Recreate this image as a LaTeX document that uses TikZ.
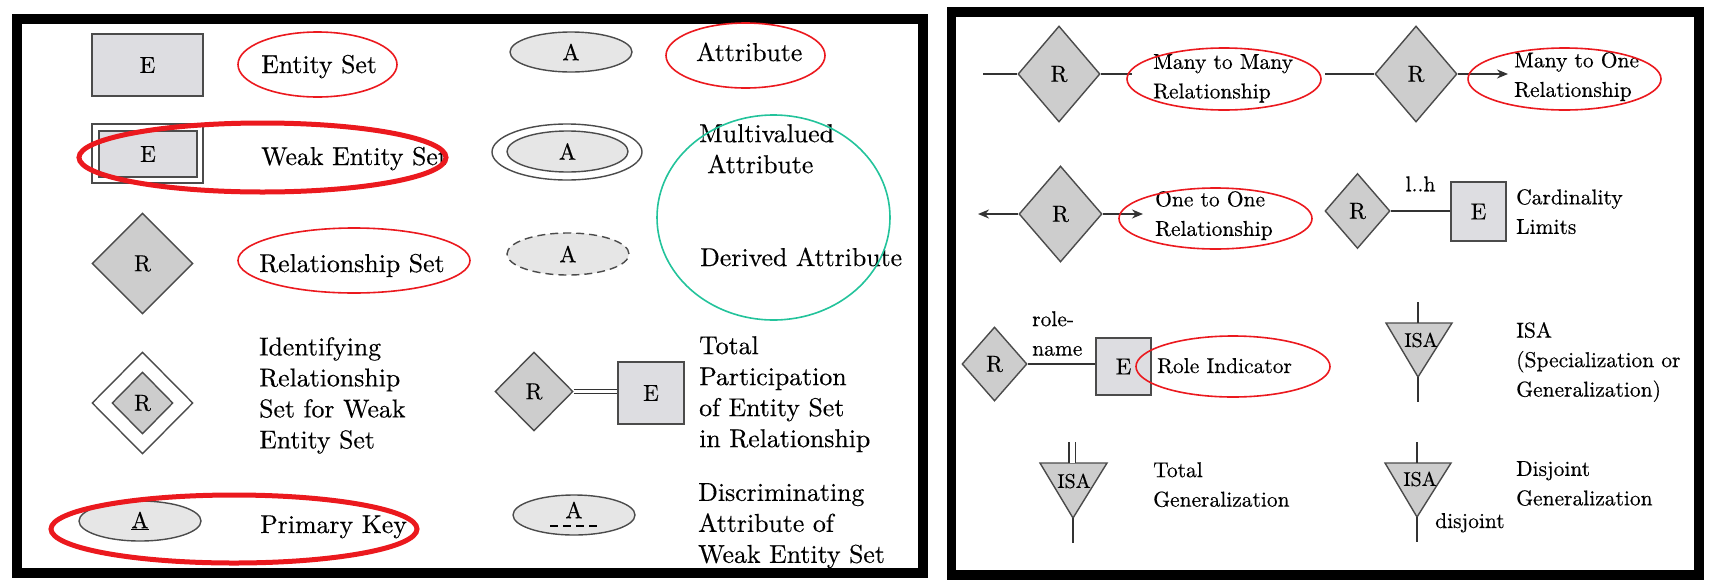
\documentclass[tikz,border=0pt]{standalone}
\usepackage{fontspec}
\setmainfont{lmroman10-regular.otf}[FakeBold=0.4]
\usetikzlibrary{shapes.geometric,arrows.meta}
\definecolor{boxfill}{RGB}{221,221,225}
\definecolor{relfill}{RGB}{205,205,205}
\definecolor{attfill}{RGB}{230,230,230}
\definecolor{shapeline}{RGB}{75,75,75}
\definecolor{ringred}{RGB}{235,25,30}
\definecolor{ringteal}{RGB}{35,195,155}
\begin{document}
\begin{tikzpicture}[x=1pt,y=-1pt,
	every node/.style={inner sep=0pt},
	txt/.style={font=\fontsize{25.8}{31}\selectfont,align=left},
	rtxt/.style={font=\fontsize{21.5}{29.5}\selectfont,align=left},
	lbl/.style={font=\fontsize{23}{25}\selectfont},
	isalbl/.style={font=\fontsize{20}{22}\selectfont},
	ent/.style={rectangle,draw=shapeline,fill=boxfill,line width=1.4pt,lbl},
	rel/.style={diamond,draw=shapeline,fill=relfill,line width=1.4pt,lbl},
	att/.style={ellipse,draw=shapeline,fill=attfill,line width=1.4pt,lbl},
	isa/.style={draw=shapeline,fill=relfill,line width=1.4pt},
	conn/.style={draw=black!80,line width=1.4pt},
	redring/.style={ellipse,draw=ringred,line width=1.6pt},
	boldring/.style={ellipse,draw=ringred,line width=5pt},
	frame/.style={draw=black,line width=10pt}]
	\useasboundingbox (0,0) rectangle (1712,587);
	\draw[frame] (16.5,19) rectangle (923,573);
	\draw[frame,line width=9.5pt] (951.5,12) rectangle (1699,575);

	% left panel
	\node[ent,minimum width=111,minimum height=62] (eSet) at (147.5,65) {E};
	\node[txt,anchor=base west] (eSetTxt) at (261,73) {Entity Set};
	\node[redring,minimum width=159,minimum height=65] (eSetRing) at (317.5,64.5) {};
	\node[att,minimum width=122,minimum height=40] (aAtt) at (571,52) {A};
	\node[txt,anchor=base west] (aAttTxt) at (696,61) {Attribute};
	\node[redring,minimum width=159,minimum height=65] (aAttRing) at (745.5,55.5) {};

	\node[draw=shapeline,line width=1.4pt,minimum width=111,minimum height=59] (wOuter) at (147.5,153.5) {};
	\node[ent,minimum width=98,minimum height=46] (wInner) at (148,154) {E};
	\node[txt,anchor=base west] (wTxt) at (261,165) {Weak Entity Set};
	\node[boldring,minimum width=367,minimum height=69] (wRing) at (262.5,157.5) {};
	\node[ellipse,draw=shapeline,line width=1.4pt,minimum width=150,minimum height=56] (mOuter) at (567,152) {};
	\node[att,minimum width=121,minimum height=41] (mInner) at (567.5,151.5) {A};
	\node[txt,anchor=north west] (mTxt) at (699,124) {Multivalued\\\hspace*{8pt}Attribute};

	\node[rel,minimum width=101,minimum height=101] (rSet) at (142.5,263.5) {R};
	\node[txt,anchor=base west] (rTxt) at (259,272) {Relationship Set};
	\node[redring,minimum width=232,minimum height=65] (rRing) at (354,260.5) {};
	\node[att,dash pattern=on 8pt off 5pt,minimum width=122,minimum height=42] (dAtt) at (568,254) {A};
	\node[txt,anchor=base west] (dTxt) at (700,266) {Derived Attribute};
	\node[ellipse,draw=ringteal,line width=1.6pt,minimum width=233,minimum height=205] (mRing) at (773.5,217.5) {};

	\node[diamond,draw=shapeline,line width=1.4pt,minimum width=101,minimum height=102] (idOuter) at (142.5,403) {};
	\node[rel,minimum width=61,minimum height=62] (idInner) at (142.5,403) {R};
	\node[txt,anchor=north west] (idTxt) at (259,337) {Identifying\\Relationship\\Set for Weak\\Entity Set};
	\node[rel,minimum width=78,minimum height=79] (tpRel) at (534,391.5) {R};
	\node[ent,minimum width=66,minimum height=62] (tpEnt) at (651,393) {E};
	\draw[conn,double,double distance=3pt,line width=1.1pt] (tpRel.east) -- (tpRel.east -| tpEnt.west);
	\node[txt,anchor=north west] (tpTxt) at (699,336) {Total\\Participation\\of Entity Set\\in Relationship};

	\node[att,minimum width=122,minimum height=40] (pkAtt) at (140,521) {\underline{A}};
	\node[txt,anchor=base west] (pkTxt) at (260,533) {Primary Key};
	\node[boldring,minimum width=366,minimum height=68] (pkRing) at (234,529) {};
	\node[att,text depth=10pt,minimum width=122,minimum height=40] (daAtt) at (574,515) {A};
	\draw[line width=1.1pt,dash pattern=on 8pt off 5pt] ([xshift=-24pt,yshift=-11pt]daAtt.center) -- ([xshift=24pt,yshift=-11pt]daAtt.center);
	\node[txt,anchor=north west] (daTxt) at (698,483) {Discriminating\\Attribute of\\Weak Entity Set};

	% right panel
	\node[rel,minimum width=82,minimum height=96] (mmRel) at (1059,74) {R};
	\coordinate (mmL) at (983,74);
	\coordinate (mmR) at (1132,74);
	\draw[conn] (mmL) -- (mmRel.west);
	\draw[conn] (mmRel.east) -- (mmR);
	\node[rtxt,anchor=north west] (mmTxt) at (1153,54) {Many to Many\\Relationship};
	\node[redring,minimum width=194,minimum height=62] (mmRing) at (1224,79) {};

	\node[rel,minimum width=82,minimum height=96] (moRel) at (1416,74) {R};
	\coordinate (moL) at (1325,74);
	\coordinate (moR) at (1508,74);
	\draw[conn] (moL) -- (moRel.west);
	\draw[conn,-{Stealth[length=11pt,width=9pt]}] (moRel.east) -- (moR);
	\node[rtxt,anchor=north west] (moTxt) at (1514,52) {Many to One\\Relationship};
	\node[redring,minimum width=193,minimum height=62] (moRing) at (1564.5,79) {};

	\node[rel,minimum width=83,minimum height=96] (ooRel) at (1060.5,214) {R};
	\coordinate (ooL) at (978,214);
	\coordinate (ooR) at (1143,214);
	\draw[conn,-{Stealth[length=11pt,width=9pt]}] (ooRel.west) -- (ooL);
	\draw[conn,-{Stealth[length=11pt,width=9pt]}] (ooRel.east) -- (ooR);
	\node[rtxt,anchor=north west] (ooTxt) at (1155,191) {One to One\\Relationship};
	\node[redring,minimum width=193,minimum height=61] (ooRing) at (1215.5,218.5) {};

	\node[rel,minimum width=65,minimum height=75] (clRel) at (1357.5,211) {R};
	\node[ent,minimum width=55,minimum height=59] (clEnt) at (1478.5,211.5) {E};
	\draw[conn] (clRel.east) -- (clRel.east -| clEnt.west) node[rtxt,midway,above=19pt] (clLim) {l..h};
	\node[rtxt,anchor=north west] (clTxt) at (1516,189) {Cardinality\\Limits};

	\node[rel,minimum width=65,minimum height=74] (riRel) at (994.5,364) {R};
	\node[ent,minimum width=55,minimum height=57] (riEnt) at (1123.5,366.5) {E};
	\draw[conn] (riRel.east) -- (riRel.east -| riEnt.west);
	\node[rtxt,anchor=north west] (riName) at (1032,311) {role-\\name};
	\node[rtxt,anchor=base west] (riTxt) at (1157,373) {Role Indicator};
	\node[redring,minimum width=194,minimum height=61] (riRing) at (1233,366.5) {};

	\coordinate (isTop) at (1418,302);
	\coordinate (isMid) at (1418,323);
	\coordinate (isApex) at (1418,377);
	\coordinate (isBot) at (1418,402);
	\draw[isa] (1386,323) -- (1452,323) -- (isApex) -- cycle;
	\draw[conn] (isTop) -- (isMid);
	\draw[conn] (isApex) -- (isBot);
	\node[isalbl] (isLbl) at (1421,340) {ISA};
	\node[rtxt,anchor=north west] (isTxt) at (1516,322) {ISA\\(Specialization or\\Generalization)};

	\coordinate (tgTop) at (1072,442);
	\coordinate (tgMid) at (1072,463);
	\coordinate (tgApex) at (1073,518);
	\coordinate (tgBot) at (1073,543);
	\draw[isa] (1040,463) -- (1107,463) -- (tgApex) -- cycle;
	\draw[conn,double,double distance=5pt,line width=1.1pt] (tgTop) -- (tgMid);
	\draw[conn] (tgApex) -- (tgBot);
	\node[isalbl] (tgLbl) at (1074,481) {ISA};
	\node[rtxt,anchor=north west] (tgTxt) at (1153,462) {Total\\Generalization};

	\coordinate (djTop) at (1417,442);
	\coordinate (djMid) at (1417,463);
	\coordinate (djApex) at (1417,517);
	\coordinate (djBot) at (1417,542);
	\draw[isa] (1385,463) -- (1451,463) -- (djApex) -- cycle;
	\draw[conn] (djTop) -- (djMid);
	\draw[conn] (djApex) -- (djBot);
	\node[isalbl] (djLbl) at (1420,479) {ISA};
	\node[rtxt,anchor=base west] (djNote) at (1435,528) {disjoint};
	\node[rtxt,anchor=north west] (djTxt) at (1516,461) {Disjoint\\Generalization};
\end{tikzpicture}
\end{document}
